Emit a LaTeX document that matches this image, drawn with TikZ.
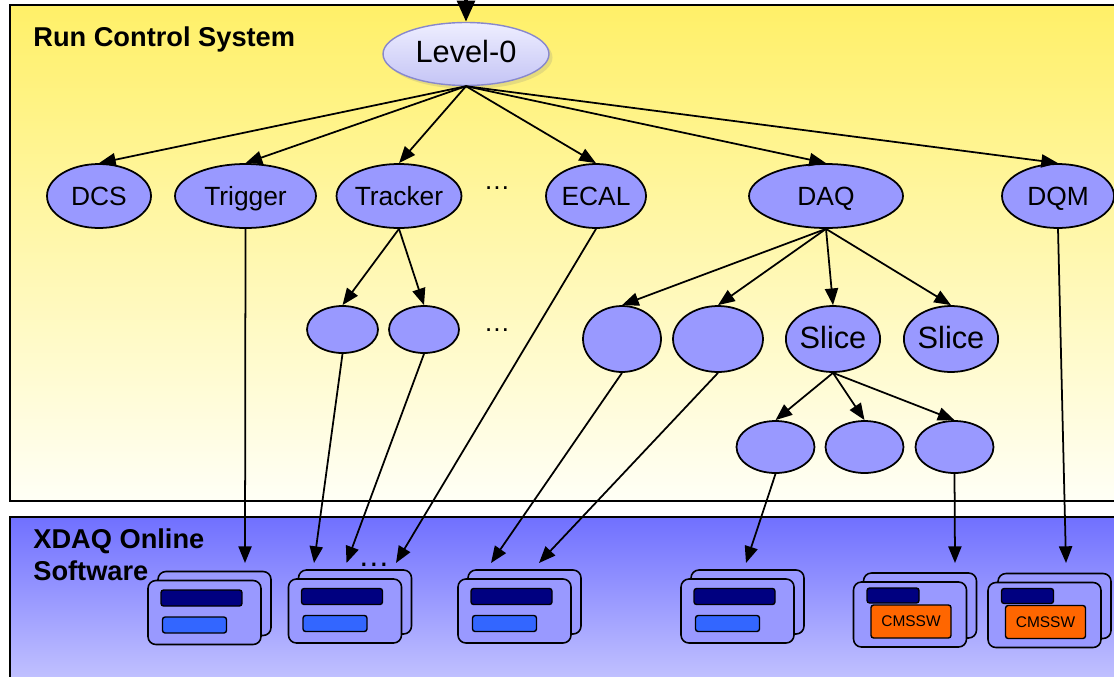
\documentclass[tikz,border=0pt]{standalone}
\usepackage{fontspec}
\setmainfont{Liberation Sans}
\usepackage{xcolor}
\definecolor{rcnode}{RGB}{153,153,255}
\definecolor{lvltop}{RGB}{238,238,255}
\definecolor{lvlbot}{RGB}{196,196,245}
\definecolor{lvlrim}{RGB}{136,136,204}
\definecolor{rcstop}{RGB}{255,240,104}
\definecolor{rcsbot}{RGB}{255,255,246}
\definecolor{xdaqtop}{RGB}{112,112,255}
\definecolor{xdaqbot}{RGB}{204,204,255}
\definecolor{navybar}{RGB}{0,0,128}
\definecolor{bluebar}{RGB}{51,102,255}
\definecolor{cmsswor}{RGB}{255,102,0}
\usetikzlibrary{shapes.geometric}
\usetikzlibrary{arrows.meta}
\usetikzlibrary{shadows}

\begin{document}
\begin{tikzpicture}[x=0.02cm,y=-0.02cm,
  ctrl/.style={ellipse,draw,fill=rcnode,line width=1pt,inner sep=0pt,
    text height=1.05em,text depth=0pt,font=\fontsize{15}{18}\selectfont},
  bigtxt/.style={font=\fontsize{17.5}{20}\selectfont},
  link/.style={-{Triangle[length=9.5pt,width=7.5pt]},line width=1pt},
  app/.style={draw,fill=rcnode,line width=0.9pt,rounded corners=4.5pt,
    minimum width=2.26cm,minimum height=1.28cm,inner sep=0pt,
    copy shadow={shadow xshift=0.2cm,shadow yshift=0.18cm}},
  bar/.style={draw,line width=0.8pt,rounded corners=1.5pt,inner sep=0pt},
  dots/.style={anchor=base,inner sep=0pt,font=\fontsize{15}{18}\selectfont},
  title/.style={anchor=base west,inner sep=0pt,align=left,
    font=\fontsize{15.5}{18}\selectfont\bfseries}]
\useasboundingbox (0,0) rectangle (1114,676);
\clip (0,0) rectangle (1114,676);

% the two layers
\draw[line width=1.4pt,top color=rcstop,bottom color=rcsbot] (10,5) rectangle (1140,501);
\draw[line width=0.8pt,top color=xdaqtop,bottom color=xdaqbot] (10,517) rectangle (1140,700);
\node[title] (rcs) at (33,46) {Run Control System};
\node[title] (xdaq) at (33,580) {XDAQ Online\\Software};

% run control tree
\node[ellipse,draw=lvlrim,line width=0.8pt,top color=lvltop,bottom color=lvlbot,
  drop shadow={shadow xshift=2pt,shadow yshift=-2pt,opacity=0.2},
  minimum width=3.32cm,minimum height=1.26cm,inner sep=0pt,
  text height=0.95em,text depth=0pt,bigtxt] (lvl) at (466,54) {Level-0};

\node[ctrl,minimum width=2.08cm,minimum height=1.28cm] (dcs) at (99,196) {DCS};
\node[ctrl,minimum width=2.82cm,minimum height=1.28cm] (trig) at (245.5,196) {Trigger};
\node[ctrl,minimum width=2.30cm,minimum height=1.28cm] (trk) at (399,196) {Tracker};
\node[ctrl,minimum width=2.00cm,minimum height=1.28cm] (ecal) at (596,196) {ECAL};
\node[ctrl,minimum width=3.08cm,minimum height=1.28cm] (daq) at (826,196) {DAQ};
\node[ctrl,minimum width=2.24cm,minimum height=1.28cm] (dqm) at (1058,196) {DQM};
\node[dots] (dots1) at (497,189) {\textellipsis};

\node[ctrl,minimum width=1.42cm,minimum height=0.94cm] (trka) at (342.5,329.5) {};
\node[ctrl,minimum width=1.40cm,minimum height=0.94cm] (trkb) at (424,329.5) {};
\node[dots] (dots2) at (497,331) {\textellipsis};

\node[ctrl,minimum width=1.56cm,minimum height=1.32cm] (daqa) at (622,339) {};
\node[ctrl,minimum width=1.80cm,minimum height=1.32cm] (daqb) at (718,339) {};
\node[ctrl,bigtxt,minimum width=1.80cm,minimum height=1.32cm] (slc1) at (833,339) {Slice};
\node[ctrl,bigtxt,minimum width=1.80cm,minimum height=1.32cm] (slc2) at (951,339) {Slice};

\node[ctrl,minimum width=1.56cm,minimum height=1.04cm] (slca) at (775.5,447) {};
\node[ctrl,minimum width=1.56cm,minimum height=1.04cm] (slcb) at (864.5,447) {};
\node[ctrl,minimum width=1.56cm,minimum height=1.04cm] (slcc) at (954.5,447) {};

% xdaq applications
\node[app] (app1) at (204.5,612.5) {};
\node[app] (app2) at (345,611) {};
\node[app] (app3) at (514.5,611) {};
\node[app] (app4) at (737.5,611) {};
\node[app,minimum height=1.3cm] (app5) at (910,614.5) {};
\node[app,minimum height=1.3cm] (app6) at (1044.5,615) {};

\node[bar,fill=navybar,minimum width=1.62cm,minimum height=0.32cm] (nav1) at ([shift={(-3,-14.5)}]app1.center) {};
\node[bar,fill=bluebar,minimum width=1.28cm,minimum height=0.32cm] (blu1) at ([shift={(-10,12.5)}]app1.center) {};
\node[bar,fill=navybar,minimum width=1.62cm,minimum height=0.32cm] (nav2) at ([shift={(-3,-14.5)}]app2.center) {};
\node[bar,fill=bluebar,minimum width=1.28cm,minimum height=0.32cm] (blu2) at ([shift={(-10,12.5)}]app2.center) {};
\node[bar,fill=navybar,minimum width=1.62cm,minimum height=0.32cm] (nav3) at ([shift={(-3,-14.5)}]app3.center) {};
\node[bar,fill=bluebar,minimum width=1.28cm,minimum height=0.32cm] (blu3) at ([shift={(-10,12.5)}]app3.center) {};
\node[bar,fill=navybar,minimum width=1.62cm,minimum height=0.32cm] (nav4) at ([shift={(-3,-14.5)}]app4.center) {};
\node[bar,fill=bluebar,minimum width=1.28cm,minimum height=0.32cm] (blu4) at ([shift={(-10,12.5)}]app4.center) {};
\node[bar,fill=navybar,minimum width=1.04cm,minimum height=0.30cm] (nav5) at ([shift={(-17,-19)}]app5.center) {};
\node[bar,fill=cmsswor,minimum width=1.60cm,minimum height=0.66cm,font=\fontsize{8.8}{10}\selectfont] (cms5) at ([shift={(1,7)}]app5.center) {CMSSW};
\node[bar,fill=navybar,minimum width=1.04cm,minimum height=0.30cm] (nav6) at ([shift={(-17,-19)}]app6.center) {};
\node[bar,fill=cmsswor,minimum width=1.60cm,minimum height=0.66cm,font=\fontsize{8.8}{10}\selectfont] (cms6) at ([shift={(1,7)}]app6.center) {CMSSW};

\coordinate (input) at (466,-5);
\coordinate (in1) at (245,563);
\coordinate (in2a) at (314,563);
\coordinate (in2b) at (346.5,563);
\coordinate (in2c) at (396,563);
\coordinate (in3a) at (491,563);
\coordinate (in3b) at (539,563);
\coordinate (in4) at (746,563);
\coordinate (in5) at (955,563);
\coordinate (in6) at (1066,563);
\node[dots,font=\fontsize{18}{20}\selectfont] (dots3) at (374,566) {\textellipsis};

% control links
\draw[-{Triangle[length=12pt,width=10pt]},line width=2.2pt] (input) to[] (lvl.north);
\draw[link] (lvl.south) to[] (dcs.north);
\draw[link] (lvl.south) to[] (trig.north);
\draw[link] (lvl.south) to[] (trk.north);
\draw[link] (lvl.south) to[] (ecal.north);
\draw[link] (lvl.south) to[] (daq.north);
\draw[link] (lvl.south) to[] (dqm.north);

\draw[link] (trk.south) to[] (trka.north);
\draw[link] (trk.south) to[] (trkb.north);
\draw[link] (daq.south) to[] (daqa.north);
\draw[link] (daq.south) to[] (daqb.north);
\draw[link] (daq.south) to[] (slc1.north);
\draw[link] (daq.south) to[] (slc2.north);
\draw[link] (slc1.south) to[] (slca.north);
\draw[link] (slc1.south) to[] (slcb.north);
\draw[link] (slc1.south) to[] (slcc.north);

% down to the applications
\draw[link] (trig.south) to[] (in1);
\draw[link] (trka.south) to[] (in2a);
\draw[link] (trkb.south) to[] (in2b);
\draw[link] (ecal.south) to[] (in2c);
\draw[link] (daqa.south) to[] (in3a);
\draw[link] (daqb.south) to[] (in3b);
\draw[link] (slca.south) to[] (in4);
\draw[link] (slcc.south) to[] (in5);
\draw[link] (dqm.south) to[] (in6);
\end{tikzpicture}
\end{document}
